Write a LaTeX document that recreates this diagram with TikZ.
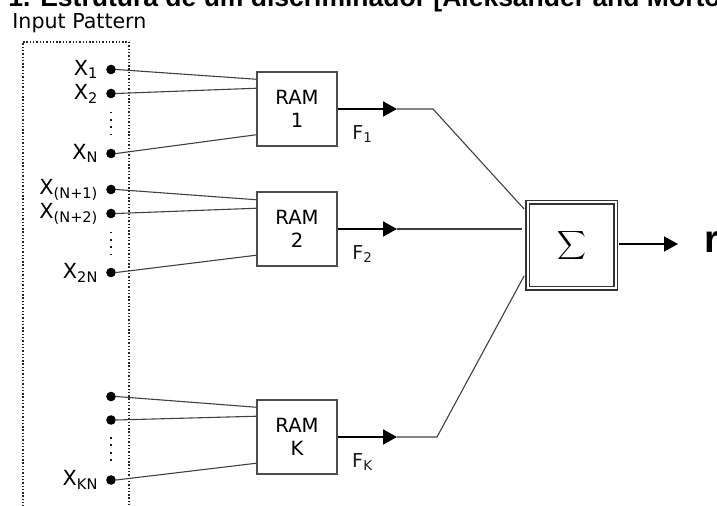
\documentclass[tikz,border=0pt]{standalone}
\usepackage{fontspec}
\setmainfont{DejaVu Sans}
\newfontfamily\headfont{Liberation Sans}
\usetikzlibrary{arrows.meta,calc,positioning}

\tikzset{
    wire/.style={draw=black!75,line width=0.55pt},
    rambox/.style={draw=black!70,line width=0.75pt,minimum width=40pt,minimum height=37pt,
        inner sep=0pt,align=center,font=\fontsize{9.8}{11.2}\selectfont},
    inbit/.style={circle,fill=black,inner sep=0pt,minimum size=4.8pt},
    xlbl/.style={font=\fontsize{10.4}{12}\selectfont,inner sep=0pt,label distance=3.5pt},
    vdots/.style={draw=black!90,line width=1pt,dash pattern=on 0.9pt off 2.75pt},
    frame/.style={draw=black!85,line width=0.8pt,dash pattern=on 0.7pt off 0.95pt},
    fout/.style={line width=0.85pt,-{Triangle[length=7pt,width=7.5pt]}},
    flbl/.style={font=\fontsize{9.6}{11}\selectfont,inner sep=0pt,text=black!90},
}

\begin{document}
\begin{tikzpicture}[x=0.5pt,y=-0.5pt]
    \useasboundingbox (0,0) rectangle (717,506);
    \clip (0,0) rectangle (717,506);

    % heading and input block
    \node[anchor=base west,inner sep=0pt,font=\headfont\bfseries\fontsize{13.25}{15}\selectfont]
        (title) at (8,7) {1. Estrutura de um discriminador [Aleksander and Morton};
    \node[anchor=base west,inner sep=0pt,font=\fontsize{10.3}{12}\selectfont]
        (inlbl) at (12,29) {Input Pattern};
    \draw[frame] (22.7,520) -- (22.7,42) -- (128.7,42) -- (128.7,520);

    % input bits
    \node[inbit,label={[xlbl]left:X\textsubscript{1}}] (x1) at (111,69.5) {};
    \node[inbit,label={[xlbl]left:X\textsubscript{2}}] (x2) at (111,93.5) {};
    \node[inbit,label={[xlbl]left:X\textsubscript{N}}] (xn) at (111,153.5) {};
    \node[inbit,label={[xlbl]left:X\textsubscript{(N+1)}}] (xn1) at (111,189.5) {};
    \node[inbit,label={[xlbl]left:X\textsubscript{(N+2)}}] (xn2) at (111,213.5) {};
    \node[inbit,label={[xlbl]left:X\textsubscript{2N}}] (x2n) at (111,272.5) {};
    \node[inbit] (xk1) at (111,396.5) {};
    \node[inbit] (xk2) at (111,420) {};
    \node[inbit,label={[xlbl]left:X\textsubscript{KN}}] (xkn) at (111,480) {};

    \draw[vdots,shorten <=6.5pt,shorten >=5pt] (x2) -- (xn);
    \draw[vdots,shorten <=6.5pt,shorten >=5pt] (xn2) -- (x2n);
    \draw[vdots,shorten <=6pt,shorten >=5pt] (xk2) -- (xkn);

    % RAM nodes
    \node[rambox] (ram1) at (297,109) {RAM\\1};
    \node[rambox] (ram2) at (297,229) {RAM\\2};
    \node[rambox] (ramk) at (297,437) {RAM\\K};

    \draw[wire] (x1.east) -- ($(ram1.north west)+(0,8)$);
    \draw[wire] (x2.east) -- ($(ram1.north west)+(0,17)$);
    \draw[wire] (xn.east) -- ($(ram1.north west)+(0,63.5)$);
    \draw[wire] (xn1.east) -- ($(ram2.north west)+(0,8.5)$);
    \draw[wire] (xn2.east) -- ($(ram2.north west)+(0,17)$);
    \draw[wire] (x2n.east) -- ($(ram2.north west)+(0,64)$);
    \draw[wire] (xk1.east) -- ($(ramk.north west)+(0,8)$);
    \draw[wire] (xk2.east) -- ($(ramk.north west)+(0,17)$);
    \draw[wire] (xkn.east) -- ($(ramk.north west)+(0,64)$);

    % RAM outputs
    \coordinate (f1) at (397,109);
    \coordinate (f2) at (397,229);
    \coordinate (fk) at (397,437);
    \draw[fout] (ram1.east) -- node[flbl,below=8pt,pos=0.42] {F\textsubscript{1}} (f1);
    \draw[fout] (ram2.east) -- node[flbl,below=8pt,pos=0.42] {F\textsubscript{2}} (f2);
    \draw[fout] (ramk.east) -- node[flbl,below=8pt,pos=0.42] {F\textsubscript{K}} (fk);

    % summing node
    \node[draw=black!80,double,line width=0.8pt,double distance=1pt,minimum width=44pt,
        minimum height=43pt,inner sep=0pt,font=\fontsize{15.5}{17}\selectfont]
        (sum) at (571.5,245.5) {$\displaystyle\sum$};
    \coordinate (s1) at ($(sum.west)+(-2.6,-36.5)$);
    \coordinate (s2) at ($(sum.west)+(-4.6,-16.5)$);
    \coordinate (s3) at ($(sum.west)+(-2.6,30.5)$);
    \draw[wire] (f1) -- ++(36,0) -- (s1);
    \draw[wire] (f2) -- (s2);
    \draw[wire] (fk) -- ++(40,0) -- (s3);

    \coordinate (rtip) at (678,244);
    \node[anchor=base west,inner sep=0pt,font=\headfont\bfseries\fontsize{19.3}{22}\selectfont]
        (resp) at (704.5,253) {r};
    \draw[fout] ($(sum.east |- rtip)+(2.6,0)$) -- (rtip);
\end{tikzpicture}
\end{document}
